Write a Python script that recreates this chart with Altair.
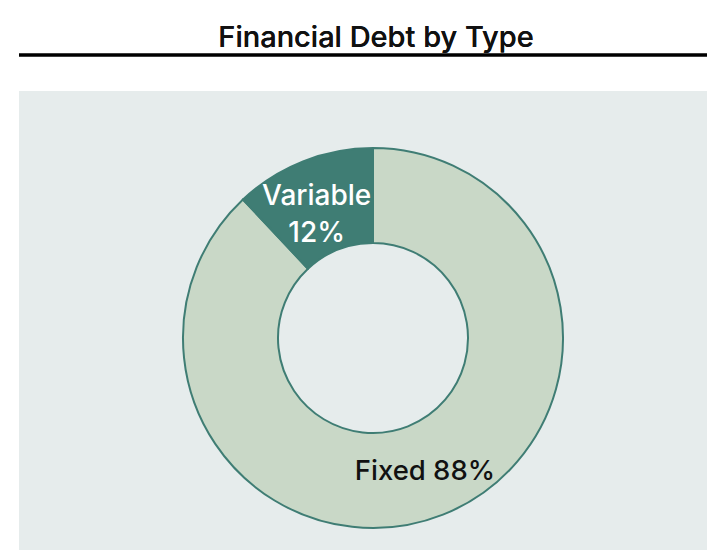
import altair as alt
import pandas as pd

categories = ["Fixed", "Variable"]
shares = [88, 12]
labels = ["Fixed 88%", "Variable\n12%"]
label_colors = ["#111111", "#ffffff"]
fill_colors = ["#c9d8c7", "#3f7d74"]

df = pd.DataFrame({
    "type": categories,
    "share": shares,
    "label": labels,
    "lcolor": label_colors,
    "order": [0, 1],
})

FONT = "Inter"
CX, CY = 354, 247

base = alt.Chart(df).encode(
    theta=alt.Theta("share:Q", stack=True),
    order=alt.Order("order:Q"),
)

arcs = base.mark_arc(outerRadius=190, innerRadius=95, stroke="#3f7d74", strokeWidth=2).encode(
    color=alt.Color("type:N", scale=alt.Scale(domain=categories, range=fill_colors), legend=None),
    x=alt.value(CX),
    y=alt.value(CY),
)

fixed_text = base.mark_text(radius=141, fontSize=27.5, font=FONT, fontWeight=500, dy=3,
                            align="center", baseline="middle").encode(
    text="label:N",
    color=alt.Color("lcolor:N", scale=None),
    opacity=alt.condition(alt.datum.type == "Fixed", alt.value(1), alt.value(0)),
    x=alt.value(CX),
    y=alt.value(CY),
)

var_text = base.mark_text(radius=145, fontSize=28, font=FONT, fontWeight=500, lineBreak="\n",
                          lineHeight=37, dy=-6, dx=-3, align="center", baseline="middle").encode(
    text="label:N",
    color=alt.Color("lcolor:N", scale=None),
    opacity=alt.condition(alt.datum.type == "Variable", alt.value(1), alt.value(0)),
    x=alt.value(CX),
    y=alt.value(CY),
)

rule = alt.Chart(df).mark_rule(color="black", strokeWidth=3).encode(
    x=alt.value(0), x2=alt.value(700), y=alt.value(-36)
)

title = alt.Chart(df).mark_text(text="Financial Debt by Type", fontSize=29, font=FONT,
                                fontWeight=500, color="#111111", align="center",
                                baseline="alphabetic").encode(
    x=alt.value(357), y=alt.value(-44)
)

chart = alt.layer(rule, title, arcs, fixed_text, var_text).properties(
    width=688, height=459,
    autosize=alt.AutoSizeParams(type="none"),
    padding={"left": 11, "top": 83, "right": 0, "bottom": 0},
    background="white",
).configure_view(fill="#e6ecec", stroke=None)

chart.save("out.html", embed_options={"renderer": "svg", "actions": False})
